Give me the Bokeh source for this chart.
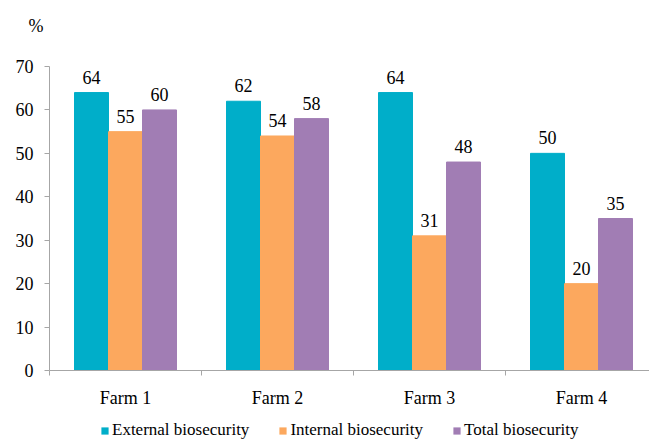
from bokeh.plotting import figure
from bokeh.models import ColumnDataSource, FixedTicker, Legend, LegendItem, Label, Range1d
from bokeh.layouts import column
from bokeh.embed import file_html
from bokeh.resources import INLINE
from bokeh.core.properties import value

farms = ["Farm 1", "Farm 2", "Farm 3", "Farm 4"]
external = [64, 62, 64, 50]
internal = [55, 54, 31, 20]
total = [60, 58, 48, 35]
series_names = ["External biosecurity", "Internal biosecurity", "Total biosecurity"]
colors = ["#00AEC9", "#FCA85E", "#A17DB4"]
y_ticks = [0, 10, 20, 30, 40, 50, 60, 70]
unit_label = "%"

FONT = "Liberation Serif"
W = 649
cat_px = 152.0
frame_w = 600
bar_w = 34 / cat_px

top_h = 40
leg_h = 30

pt = figure(width=W, height=top_h, output_backend="svg", toolbar_location=None,
            y_range=(0, top_h), x_axis_type=None, y_axis_type=None, min_border=0)
p = figure(width=W, height=374, output_backend="svg", toolbar_location=None,
           x_range=(0, frame_w / cat_px), y_range=(0, 70),
           min_border_left=49, min_border_right=0, min_border_top=26, min_border_bottom=44)
pl = figure(width=W, height=leg_h, output_backend="svg", toolbar_location=None,
            y_range=(0, leg_h), x_axis_type=None, y_axis_type=None, min_border=0)

unaligned = True
for f in (pt, p, pl):
    try:
        f.frame_align = False
    except Exception:
        unaligned = False
left0 = 0 if unaligned else 49
pt.x_range = Range1d(left0, W)
pl.x_range = Range1d(left0, W)

# ---- top strip with the unit label ----
pt.outline_line_color = None
pt.grid.visible = False
pt.add_layout(Label(x=28, y=top_h - 25, text=unit_label, text_font=FONT, text_font_size="18px",
                    text_color="black", text_baseline="middle", text_align="left"))

# ---- main chart ----
p.outline_line_color = None
p.xgrid.visible = False
p.ygrid.visible = False

centers = [i + 0.5 for i in range(len(farms))]
offsets = [-bar_w, 0.0, bar_w]
for vals, off, col in zip([external, internal, total], offsets, colors):
    src = ColumnDataSource(dict(x=[c + off for c in centers], top=vals, lab=[str(v) for v in vals]))
    p.vbar(x="x", top="top", width=bar_w, source=src, fill_color=col, line_color=col)
    p.text(x="x", y="top", text="lab", source=src, text_align="center", text_baseline="bottom",
           y_offset=-9, text_font=value(FONT), text_font_size="18px", text_color="black")

p.xaxis.ticker = FixedTicker(ticks=centers, minor_ticks=[0, 1, 2, 3, 4])
p.xaxis.major_label_overrides = {c: f for c, f in zip(centers, farms)}
p.xaxis.major_tick_out = 0
p.xaxis.major_tick_in = 0
p.xaxis.minor_tick_out = 5
p.xaxis.minor_tick_in = 0
p.xaxis.major_label_standoff = 12
p.xaxis.major_label_text_font = FONT
p.xaxis.major_label_text_font_size = "18px"
p.xaxis.major_label_text_color = "black"
p.xaxis.axis_line_color = "#A6A6A6"
p.xaxis.minor_tick_line_color = "#A6A6A6"

p.yaxis.ticker = FixedTicker(ticks=y_ticks, minor_ticks=[])
p.yaxis.major_tick_out = 5
p.yaxis.major_tick_in = 0
p.yaxis.major_label_standoff = 11
p.yaxis.major_label_text_font = FONT
p.yaxis.major_label_text_font_size = "18px"
p.yaxis.major_label_text_color = "black"
p.yaxis.axis_line_color = "#A6A6A6"
p.yaxis.major_tick_line_color = "#A6A6A6"

# ---- legend strip ----
pl.outline_line_color = None
pl.grid.visible = False
items = []
for col, name in zip(colors, series_names):
    r = pl.vbar(x=[0], top=[0], bottom=[0], width=0, fill_color=col, line_color=None)
    items.append(LegendItem(label=name, renderers=[r]))
legend = Legend(items=items, orientation="horizontal", location=(100 - left0, 4),
                glyph_width=9, glyph_height=9, label_standoff=3, spacing=29, padding=0, margin=0,
                label_height=17,
                label_text_font=FONT, label_text_font_size="17px", label_text_color="black",
                border_line_color=None, background_fill_alpha=0)
pl.add_layout(legend, "center")

layout = column(pt, p, pl, spacing=0)
open("out.html", "w").write(file_html(layout, INLINE))
